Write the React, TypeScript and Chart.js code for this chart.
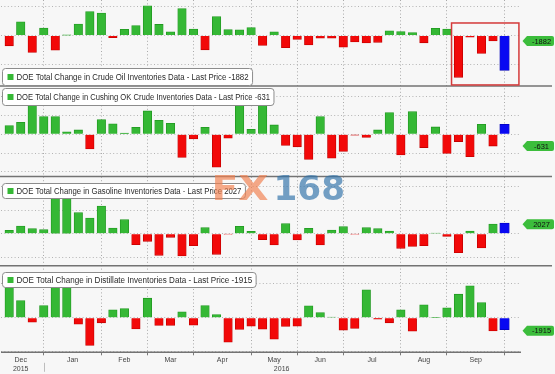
import React, { useEffect, useRef } from 'react';
import { Chart, registerables } from 'chart.js';

Chart.register(...registerables);
Chart.defaults.font.family = '"Liberation Sans", Arial, sans-serif';

// Weekly DOE inventory changes (thousand barrels), Dec 2015 – Sep 2016
const crudeOilChange = [-3560, 4800, -5880, 2630, -5090, 230, 3980, 8380, 7790, -750, 2150, 3500, 10370, 3880, 1320, 9360, 2300, -4940, 6630, 2080, 2000, 2780, -3410, 1310, -4230, -1370, -3230, -930, -920, -4050, -2220, -2550, -2340, 1670, 1410, 1060, -2510, 2500, 2280, -14510, -560, -6190, -1882];
const crudeOilMarker = -12100;

const cushingChange = [460, 640, 1900, 940, 940, 125, 230, -780, 780, 550, 55, 370, 1240, 745, 585, -1240, -250, 370, -1750, -210, 2200, 265, 2000, 495, -600, -670, -1345, 940, -1275, -920, -50, -175, 230, 1150, -1100, 1200, -710, 390, -1025, -390, -1200, 530, -631];
const cushingMarker = 530;

const gasolineChange = [710, 1630, 1060, 850, 10600, 8400, 4470, 3330, 5890, 1200, 2980, -2340, -1630, -4610, -780, -4750, -2550, 1280, -4400, -100, 1560, 500, -1280, -2400, 2130, -1350, 1130, -2410, 780, 1490, -100, 1280, 1060, 570, -3120, -2700, -2550, 140, -570, -4040, 570, -3050, 2027];
const gasolineMarker = 2270;

const distillateChange = [5400, 2550, -640, 1810, 6300, 6000, -930, -4070, -735, 1180, 1370, -1620, 2890, -1130, -1130, 880, -1080, 1810, 490, -3580, -1720, -1230, -1670, -3140, -1270, -1230, 1760, 780, 100, -1810, -1570, 4120, -200, -735, 1180, -1960, 1910, 50, 1470, 3480, 4710, 2250, -1915];
const distillateMarker = -1750;

const seriesNames = ['Crude Oil', 'Cushing OK Crude', 'Gasoline', 'Distillate'];

// x axis (week index positions)
const monthLabels = ['Dec', 'Jan', 'Feb', 'Mar', 'Apr', 'May', 'Jun', 'Jul', 'Aug', 'Sep'];
const monthCenters = [1, 5.5, 10, 14, 18.5, 23, 27, 31.5, 36, 40.5];
const monthBoundaries = [3, 8, 12, 16, 21, 25, 29, 34, 38, 43];
const yearLabels = ['2015', '2016'];
const yearCenters = [1, 23.65];
const yearBoundary = 3;

// red annotation box (panel 1 coordinates)
const highlightBox = { fromWeek: 38.4, toWeek: 44.25, top: 4375, bottom: -17150 };

const GREEN = '#35b835';
const GREEN_EDGE = '#219821';
const RED = '#f20909';
const RED_EDGE = '#c40000';
const BLUE = '#0808f2';
const BLUE_EDGE = '#0000b8';

const panels = [
  { id: 'y1', name: seriesNames[0], values: crudeOilChange, marker: crudeOilMarker, min: -17500, max: 12360, grid: [-10000, 0, 10000], h: 86, legend: { anchor: 'bottom', off: 1, hgt: 17 } },
  { id: 'y2', name: seriesNames[1], values: cushingChange, marker: cushingMarker, min: -2255, max: 2570, grid: [-2000, -1000, 0, 1000, 2000], h: 90.7, legend: { anchor: 'top', off: 2, hgt: 17 } },
  { id: 'y3', name: seriesNames[2], values: gasolineChange, marker: gasolineMarker, min: -6850, max: 12150, grid: [-5000, 0, 5000, 10000], h: 89.3, legend: { anchor: 'top', off: 6.5, hgt: 15 } },
  { id: 'y4', name: seriesNames[3], values: distillateChange, marker: distillateMarker, min: -5070, max: 7650, grid: [-5000, 0, 5000], h: 86.5, legend: { anchor: 'top', off: 5.7, hgt: 15 } },
];

function stretchText(ctx: CanvasRenderingContext2D, text: string, x: number, baseline: number, width: number, font: string, color: string) {
  ctx.save();
  ctx.font = font;
  const w = ctx.measureText(text).width;
  ctx.translate(x, baseline);
  ctx.scale(width / w, 1);
  ctx.fillStyle = color;
  ctx.textAlign = 'left';
  ctx.textBaseline = 'alphabetic';
  ctx.fillText(text, 0, 0);
  ctx.restore();
}

const overlayPlugin = {
  id: 'overlay',
  afterDraw(chart: any) {
    const ctx: CanvasRenderingContext2D = chart.ctx;
    const area = chart.chartArea;
    const xs = chart.scales.x;
    ctx.save();

    // panel separators & axis line
    ctx.strokeStyle = '#737373';
    ctx.lineWidth = 1.5;
    ctx.setLineDash([]);
    panels.slice(0, 3).forEach((p) => {
      const s = chart.scales[p.id];
      ctx.beginPath();
      ctx.moveTo(0, s.bottom);
      ctx.lineTo(chart.width - 3, s.bottom);
      ctx.stroke();
    });
    ctx.beginPath();
    ctx.moveTo(area.left, area.bottom);
    ctx.lineTo(area.right, area.bottom);
    ctx.stroke();

    // year separator
    const yb = xs.getPixelForValue(yearBoundary);
    ctx.strokeStyle = '#bdbdbd';
    ctx.lineWidth = 1;
    ctx.beginPath();
    ctx.moveTo(Math.round(yb) + 0.5, area.bottom + 10.5);
    ctx.lineTo(Math.round(yb) + 0.5, area.bottom + 19.5);
    ctx.stroke();

    // red highlight box
    const s1 = chart.scales.y1;
    const bx1 = xs.getPixelForValue(highlightBox.fromWeek);
    const bx2 = xs.getPixelForValue(highlightBox.toWeek);
    const by1 = s1.getPixelForValue(highlightBox.top);
    const by2 = s1.getPixelForValue(highlightBox.bottom);
    ctx.strokeStyle = '#d43a3a';
    ctx.lineWidth = 1.5;
    ctx.strokeRect(bx1, by1, bx2 - bx1, by2 - by1);

    // legends + tags
    panels.forEach((p) => {
      const s = chart.scales[p.id];
      const last = p.values[p.values.length - 1];
      const text = `DOE Total Change in ${p.name} Inventories Data - Last Price ${last}`;
      ctx.font = '8.4px "Liberation Sans", Arial, sans-serif';
      const natural = ctx.measureText(text).width;
      const tw = Math.min(natural, text.length * 3.57);
      const bx = 2;
      const bw = tw + 18;
      const hgt = p.legend.hgt;
      const by = p.legend.anchor === 'bottom' ? s.bottom - p.legend.off - hgt : s.top + p.legend.off;
      ctx.fillStyle = '#ffffff';
      ctx.strokeStyle = '#8c8c8c';
      ctx.lineWidth = 1;
      ctx.beginPath();
      (ctx as any).roundRect(bx + 0.5, Math.round(by) + 0.5, bw, hgt, 3);
      ctx.fill();
      ctx.stroke();
      ctx.fillStyle = GREEN;
      ctx.fillRect(bx + 5.5, Math.round(by + hgt / 2 - 2.5), 6, 6);
      ctx.fillStyle = '#2a2a2a';
      ctx.textAlign = 'left';
      ctx.textBaseline = 'middle';
      ctx.fillText(text, bx + 14.5, Math.round(by) + hgt / 2 + 1, tw);

      // value tag on the right
      const ty = s.getPixelForValue(last);
      const tip = area.right + 1.5;
      const bl = tip + 4.5;
      const br = chart.width - 1;
      const th = 10;
      ctx.fillStyle = '#3cbd3c';
      ctx.beginPath();
      ctx.moveTo(tip, ty);
      ctx.lineTo(bl, ty - th / 2);
      ctx.lineTo(br - 2, ty - th / 2);
      ctx.quadraticCurveTo(br, ty - th / 2, br, ty - th / 2 + 2);
      ctx.lineTo(br, ty + th / 2 - 2);
      ctx.quadraticCurveTo(br, ty + th / 2, br - 2, ty + th / 2);
      ctx.lineTo(bl, ty + th / 2);
      ctx.closePath();
      ctx.fill();
      ctx.fillStyle = '#111';
      ctx.font = '7.5px "Liberation Sans", Arial, sans-serif';
      ctx.textAlign = 'center';
      ctx.fillText(String(last), (bl + br) / 2 + 1, ty + 0.5);
    });

    // watermark
    stretchText(ctx, 'FX', 211.5, 200, 57, 'bold 33px "DejaVu Sans"', 'rgba(240,128,80,0.68)');
    stretchText(ctx, '168', 273.5, 200, 71.5, 'bold 33px "DejaVu Sans"', 'rgba(45,112,168,0.66)');

    ctx.restore();
  },
};

export default function App() {
  const ref = useRef<HTMLCanvasElement>(null);

  useEffect(() => {
    const datasets: any[] = [];
    const scales: any = {};
    scales.x = {
      type: 'linear',
      min: -0.712,
      max: 44.43,
      offset: false,
      afterBuildTicks: (axis: any) => {
        const vals = [...monthBoundaries, ...monthCenters, yearCenters[1]].sort((a, b) => a - b);
        axis.ticks = vals.map((v) => ({ value: v }));
      },
      ticks: {
        autoSkip: false,
        maxRotation: 0,
        minRotation: 0,
        padding: 0,
        color: '#444',
        font: { size: 7, lineHeight: 1.3 },
        callback: (value: number) => {
          const mi = monthCenters.indexOf(value);
          const yi = yearCenters.indexOf(value);
          if (mi >= 0 && yi >= 0) return [monthLabels[mi], yearLabels[yi]];
          if (mi >= 0) return monthLabels[mi];
          if (yi >= 0) return ['', yearLabels[yi]];
          return '';
        },
      },
      grid: {
        offset: false,
        color: (c: any) => (c.tick && monthBoundaries.includes(c.tick.value) ? '#a9a9a9' : 'rgba(0,0,0,0)'),
        tickColor: (c: any) => (c.tick && monthBoundaries.includes(c.tick.value) ? '#7a7a7a' : 'rgba(0,0,0,0)'),
        lineWidth: 1,
        tickLength: 3,
        drawTicks: true,
      },
      border: { display: false, dash: [1, 2.4] },
    };

    panels.forEach((p, k) => {
      scales[p.id] = {
        type: 'linear',
        position: 'left',
        stack: 'panels',
        stackWeight: p.h,
        weight: 4 - k,
        min: p.min,
        max: p.max,
        afterBuildTicks: (axis: any) => {
          axis.ticks = p.grid.map((v) => ({ value: v }));
        },
        ticks: { display: false },
        grid: { color: '#b4b4b4', lineWidth: 1, drawTicks: false },
        border: { display: false, dash: [1, 2.4] },
      };
      datasets.push({
        type: 'bar',
        label: p.name,
        xAxisID: 'x',
        yAxisID: p.id,
        data: p.values.map((v, i) => ({ x: i, y: v })),
        backgroundColor: p.values.map((v) => (v >= 0 ? GREEN : RED)),
        borderColor: p.values.map((v) => (v >= 0 ? GREEN_EDGE : RED_EDGE)),
        borderWidth: 0.8,
        grouped: false,
        barThickness: 8.5,
      });
      datasets.push({
        type: 'bar',
        label: p.name + ' marker',
        xAxisID: 'x',
        yAxisID: p.id,
        data: [{ x: p.values.length, y: p.marker }],
        backgroundColor: BLUE,
        borderColor: BLUE_EDGE,
        borderWidth: 0.8,
        grouped: false,
        barThickness: 9.5,
      });
    });

    const chart = new Chart(ref.current as HTMLCanvasElement, {
      type: 'bar',
      data: { datasets },
      options: {
        animation: false,
        responsive: false,
        devicePixelRatio: 1,
        events: [],
        layout: { padding: { left: 1, right: 34, top: 0, bottom: 0.5 } },
        plugins: { legend: { display: false }, tooltip: { enabled: false } },
        scales,
      },
      plugins: [overlayPlugin],
    } as any);
    return () => chart.destroy();
  }, []);

  return (
    <div style={{ position: 'absolute', left: 0, top: 0, width: 555, height: 374, background: '#f7f7f7' }}>
      <canvas ref={ref} width={555} height={374} style={{ display: 'block', width: 555, height: 374 }} />
    </div>
  );
}
